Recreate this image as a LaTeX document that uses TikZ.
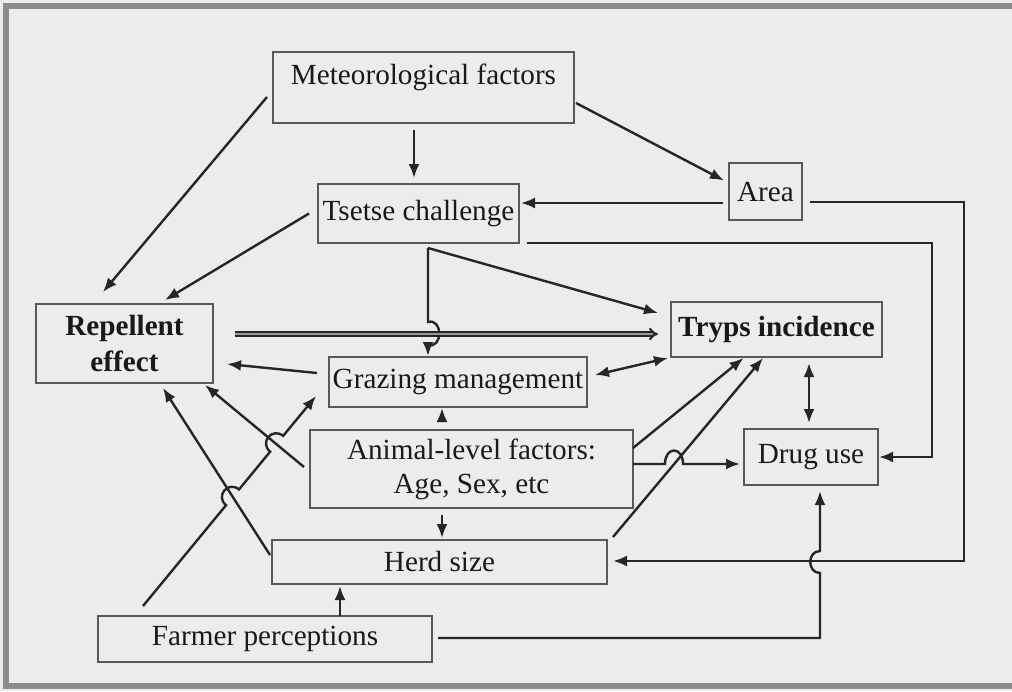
\documentclass[tikz,border=0pt]{standalone}
\usepackage{fontspec}
\setmainfont{Liberation Serif}
\usepackage{tikz}
\usetikzlibrary{arrows}
\usetikzlibrary{arrows.meta}
\usetikzlibrary{calc}
\definecolor{paper}{gray}{0.925}

\begin{document}
\begin{tikzpicture}[x=0.5pt, y=-0.5pt, >={Latex[length=7pt,width=5.5pt]},
		box/.style={draw=black!65, line width=0.65pt, inner sep=0pt, outer sep=0pt, text=black!90, align=center, font=\fontsize{14.6}{17}\selectfont},
		link/.style={draw=black!85, line width=1.2pt, ->},
		both/.style={draw=black!85, line width=1.2pt, <->}]
				\useasboundingbox (0,0) rectangle (1012,691);
				\fill[paper] (0,0) rectangle (1012,691);
				\draw[black!45, line width=3pt] (1014,6) -- (6,6) -- (6,686) -- (1014,686);
				% boxes
				\node[box, minimum width=150.5pt, minimum height=35.5pt, text height=16pt, text depth=19.5pt] (met) at (423.5,87.5) {Meteorological factors};
				\node[box, minimum width=100.5pt, minimum height=29.5pt] (tsetse) at (418.5,213.5) {Tsetse challenge};
				\node[box, minimum width=36.5pt, minimum height=28.5pt] (area) at (765.5,191.5) {Area};
				\node[box, minimum width=88.5pt, minimum height=39.5pt, font=\bfseries\fontsize{14.6}{18}\selectfont] (rep) at (124.5,343.5) {Repellent\\effect};
				\node[box, minimum width=105.5pt, minimum height=27.5pt, font=\bfseries\fontsize{14.6}{17}\selectfont] (tryps) at (776.5,329.5) {Tryps incidence};
				\node[box, minimum width=129pt, minimum height=25pt] (graz) at (458,382) {Grazing management};
				\node[box, minimum width=161.5pt, minimum height=39pt] (animal) at (471.5,469) {Animal-level factors:\\Age, Sex, etc};
				\node[box, minimum width=67pt, minimum height=28pt] (drug) at (811,457) {Drug use};
				\node[box, minimum width=167.5pt, minimum height=22pt] (herd) at (439.5,562) {Herd size};
				\node[box, minimum width=167pt, minimum height=23pt] (farmer) at (265,639) {Farmer perceptions};
				% arrows
				\draw[link] ($(met.south)+(-9.5,7)$) -- ($(tsetse.north)+(-4.5,-6)$);
				\draw[link] ($(met.south east)+(2,-20)$) -- ($(area.west)+(-5,-11)$);
				\draw[link] ($(met.west)+(-6,9.5)$) -- ($(rep.north)+(-21.5,-12)$);
				\draw[link] ($(tsetse.west)+(-9,0)$) -- ($(rep.north)+(40.5,-4)$);
				\draw[link] ($(area.west)+(-6,11.5)$) -- ($(tsetse.east)+(2,-10.5)$);
				\draw[link] ($(area.east)+(8,10.5)$) -- ++(154,0) |- ($(herd.east)+(6,-1)$);
				\draw[link] ($(tsetse.south east)+(8,0)$) -- ++(405,0) |- ($(drug.east)+(1,0)$);
				\coordinate (tsplit) at ($(tsetse.south)+(9.5,5)$);
				\draw[link] (tsplit) -- ($(tryps.west)+(-13,-16.5)$);
				\draw[link] (tsplit) -- ($(tsplit)+(0,74)$) .. controls +(15,-4) and +(15,4) .. ($(tsplit)+(0,97)$) -- ($(graz.north)+(-30,-1)$);
				\draw[double=black!40, double distance=0.9pt, line width=1.1pt, draw=black!85, -{Implies[length=5pt,width=10pt]}] ($(rep.east)+(22,-9.5)$) -- ($(tryps.west)+(-13,4.5)$);
				\draw[link] ($(graz.west)+(-12,-9)$) -- ($(rep.east)+(14,20.5)$);
				\draw[both] ($(graz.east)+(8,-7)$) -- ($(tryps.south west)+(-3,1)$);
				\draw[both] ($(tryps.south)+(32.5,6)$) -- ($(drug.north)+(-2,-6)$);
				\draw[link] ($(animal.north)+(-29.5,-10)$) -- ($(graz.south)+(-16,1)$);
				\draw[link] ($(animal.south)+(-29.5,7)$) -- ($(herd.north)+(2.5,-2)$);
				\draw[link] ($(animal.west)+(-6,-2)$) -- ($(rep.south east)+(-8,2)$);
				\draw[link] ($(animal.east)+(0,-21)$) -- ($(tryps.south)+(-33,1)$);
				\draw[link] ($(animal.east)+(0,-5)$) -- ++(32,0) .. controls +(0,-18) and +(0,-18) .. ++(18,0) -- ($(drug.west)+(-4,7)$);
				\draw[link] ($(herd.north east)+(6,-3)$) -- ($(tryps.south)+(-13.5,1)$);
				\draw[link] ($(herd.west)+(-2,-7)$) -- ($(rep.south)+(38.5,5)$);
				\coordinate (fg1) at ($(farmer.north west)+(45,-10)$);
				\coordinate (fg2) at ($(graz.west)+(-13,14)$);
				\draw[link] (fg1) -- ($(fg1)!0.48!(fg2)$) .. controls +(-11,-9) and +(-11,-9) .. ($(fg1)!0.555!(fg2)$) -- ($(fg1)!0.735!(fg2)$) .. controls +(-11,-9) and +(-11,-9) .. ($(fg1)!0.81!(fg2)$) -- (fg2);
				\draw[link] ($(farmer.north)+(75,0)$) -- ($(herd.south)+(-99.5,2)$);
				\draw[link] ($(farmer.east)+(6,-1)$) -- ++(382,0) -- ++(0,-65) .. controls +(-13,0) and +(-13,0) .. ++(0,-22) -- ($(drug.south)+(9,6)$);
			\end{tikzpicture}
\end{document}
